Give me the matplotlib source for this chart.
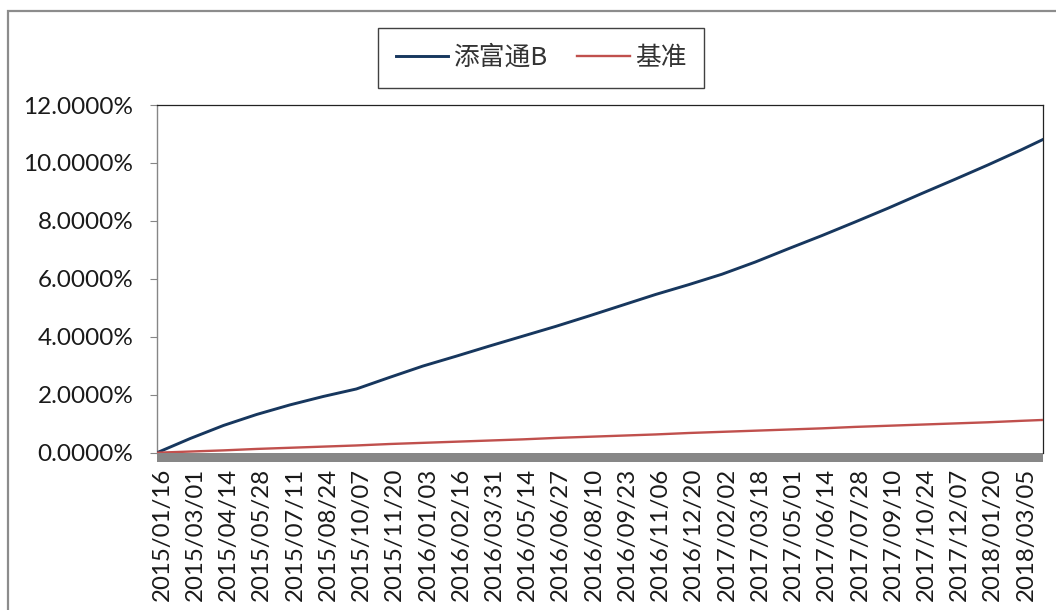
import matplotlib
matplotlib.use("Agg")
import matplotlib.pyplot as plt
import matplotlib.dates as mdates
import matplotlib.transforms as mtransforms
from matplotlib.patches import Rectangle
import pandas as pd

# ---- data ----
dates = ["2015/01/16", "2015/03/01", "2015/04/14", "2015/05/28", "2015/07/11",
         "2015/08/24", "2015/10/07", "2015/11/20", "2016/01/03", "2016/02/16",
         "2016/03/31", "2016/05/14", "2016/06/27", "2016/08/10", "2016/09/23",
         "2016/11/06", "2016/12/20", "2017/02/02", "2017/03/18", "2017/05/01",
         "2017/06/14", "2017/07/28", "2017/09/10", "2017/10/24", "2017/12/07",
         "2018/01/20", "2018/03/05", "2018/04/03"]
fund_pct = [0.00, 0.49, 0.94, 1.32, 1.65, 1.94, 2.20, 2.60, 2.99, 3.33,
            3.68, 4.02, 4.36, 4.72, 5.09, 5.46, 5.80, 6.16, 6.58, 7.04,
            7.49, 7.96, 8.44, 8.94, 9.43, 9.93, 10.45, 10.81]
bench_pct = [0.00, 0.04, 0.08, 0.13, 0.17, 0.21, 0.25, 0.30, 0.34, 0.38,
             0.42, 0.46, 0.51, 0.55, 0.59, 0.63, 0.68, 0.72, 0.76, 0.80,
             0.84, 0.89, 0.93, 0.97, 1.01, 1.05, 1.10, 1.13]
tick_labels = dates[:-1]
series_names = ["添富通B", "基准"]
yticks = [0, 2, 4, 6, 8, 10, 12]

# ---- figure ----
W, H, DPI = 1056, 610, 100
fig = plt.figure(figsize=(W / DPI, H / DPI), dpi=DPI)
fig.patch.set_facecolor("white")

tick_font = "Lato"
cjk = ["Noto Sans CJK SC", "DejaVu Sans"]

x = pd.to_datetime(dates, format="%Y/%m/%d")
fund = [v / 100 for v in fund_pct]
bench = [v / 100 for v in bench_pct]

left, right, top, bottom = 157, 1043, 105, 452.7
ax = fig.add_axes([left / W, (H - bottom) / H, (right - left) / W, (bottom - top) / H])

l1, = ax.plot(x, fund, color="#17375E", lw=2.1, solid_joinstyle="round", zorder=3)
l2, = ax.plot(x, bench, color="#C0504D", lw=1.7, solid_joinstyle="round", zorder=3)

ax.set_xlim(x[0], x[-1])
ax.set_ylim(0, 0.12)
ax.set_yticks([v / 100 for v in yticks])
ax.set_yticklabels([f"{v:.4f}%" for v in yticks], fontsize=17.5, family=tick_font, color="#1a1a1a")
ax.tick_params(axis="y", length=5, width=0.8, color="#868686", pad=12)

tick_dates = pd.to_datetime(tick_labels, format="%Y/%m/%d")
ax.set_xticks(tick_dates)
ax.set_xticklabels(tick_labels, rotation=90, fontsize=17.3, family=tick_font,
                   color="#1a1a1a", ha="center", va="top")
ax.tick_params(axis="x", length=0, pad=11)
offset = mtransforms.ScaledTranslation(5 / DPI, 0, fig.dpi_scale_trans)
for lab in ax.get_xticklabels():
    lab.set_transform(lab.get_transform() + offset)

for s in ("top", "right"):
    ax.spines[s].set_color("#222222")
    ax.spines[s].set_linewidth(0.9)
ax.spines["left"].set_color("#868686")
ax.spines["left"].set_linewidth(1.0)
ax.spines["bottom"].set_visible(False)

# thick grey x-axis bar
bar_h = 9.6 / (bottom - top)
ax.add_patch(Rectangle((0, -bar_h), 1.0, bar_h, transform=ax.transAxes,
                       facecolor="#878787", edgecolor="none", clip_on=False, zorder=2))

# outer chart frame
fig.patches.append(Rectangle((8 / W, -0.2), 1.2, 1.2 - 11 / H,
                             transform=fig.transFigure, fill=False,
                             edgecolor="#8c8c8c", lw=1.6))

leg = fig.legend([l1, l2], series_names, loc="center",
                 bbox_to_anchor=(541 / W, 1 - 58 / H), ncol=2,
                 prop={"family": cjk, "size": 18.5}, frameon=True, fancybox=False,
                 edgecolor="#111111", handlelength=2.05, handletextpad=0.2,
                 columnspacing=1.15, borderpad=0.68, borderaxespad=0)
leg.get_frame().set_linewidth(1.0)
for t in leg.get_texts():
    t.set_color("#333333")

fig.savefig("out.png", dpi=DPI)
